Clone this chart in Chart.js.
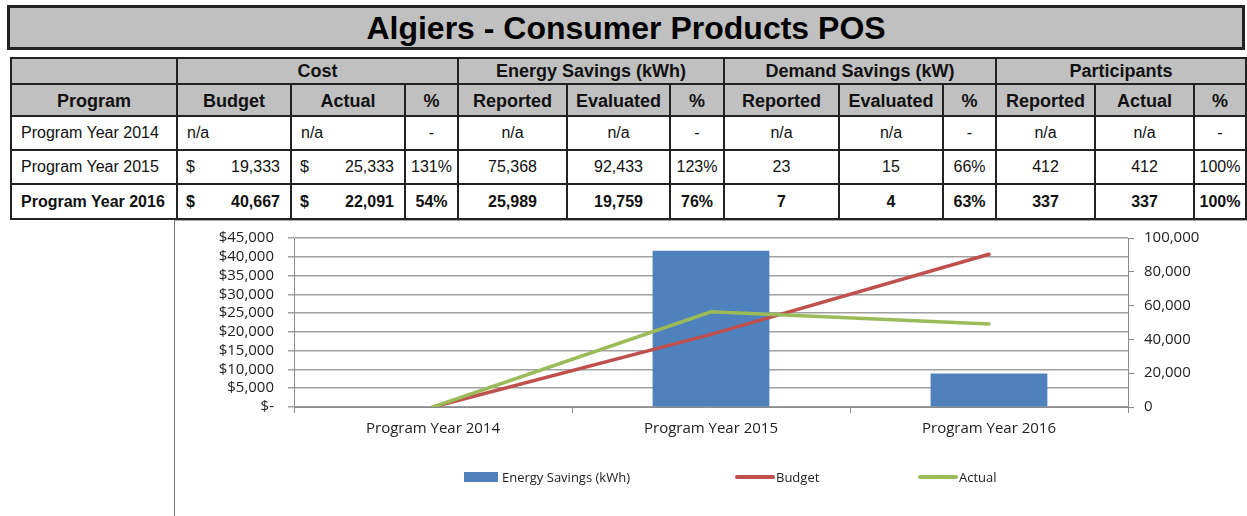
<!DOCTYPE html>
<html>
<head>
<meta charset="utf-8">
<script src="https://cdn.jsdelivr.net/npm/chart.js@4.4.0/dist/chart.umd.min.js"></script>
<style>
  body { margin:0; width:1247px; height:516px; position:relative; overflow:hidden; background:#fff;
         font-family:"Liberation Sans", Arial, sans-serif; color:#111; }
  #title { position:absolute; left:7px; top:5px; width:1232px; height:39px; border:3px solid #222;
           background:#c0c0c0; font-weight:bold; font-size:32px; line-height:40px; text-align:center; color:#000; }
  #tbl { position:absolute; left:10px; top:57px; width:1235px; border-collapse:collapse; table-layout:fixed; }
  #tbl td { border:2px solid #222; padding:0; font-size:16px; text-align:center; white-space:nowrap; overflow:hidden; }
  #tbl tr.h td { background:#c0c0c0; font-weight:bold; font-size:18px; }
  #tbl tr.h2 td { vertical-align:bottom; padding-bottom:3px; }
  #tbl tr.b td { font-weight:bold; }
  #tbl td.l { text-align:left; padding-left:9px; }
  #tbl td .m { display:flex; justify-content:space-between; padding:0 10px 0 8px; }
  #chartBox { position:absolute; left:174px; top:220px; width:1073px; height:296px;
              border-left:1px solid #777; border-top:1px solid #aaa; }
  #c { position:absolute; left:1px; top:-6px; }
  .lg { position:absolute; font-family:"Open Sans", sans-serif; font-size:13px; color:#222; line-height:14px; }
</style>
</head>
<body>
<div id="title">Algiers - Consumer Products POS</div>
<table id="tbl">
  <colgroup>
    <col style="width:166px"><col style="width:114px"><col style="width:114px"><col style="width:53px">
    <col style="width:109px"><col style="width:103px"><col style="width:54px">
    <col style="width:115px"><col style="width:104px"><col style="width:53px">
    <col style="width:99px"><col style="width:99px"><col style="width:52px">
  </colgroup>
  <tbody id="tb"></tbody>
</table>
<div id="chartBox"><canvas id="c" width="1072" height="301"></canvas></div>
<div id="legend"></div>
<script>
// categories
const years = ['Program Year 2014', 'Program Year 2015', 'Program Year 2016'];

// cost ($)
const costBudget = [null, 19333, 40667];
const costActual = [null, 25333, 22091];
const costPct = [null, 131, 54];

// energy savings (kWh)
const energyReported = [null, 75368, 25989];
const energyEvaluated = [null, 92433, 19759];
const energyPct = [null, 123, 76];

// demand savings (kW)
const demandReported = [null, 23, 7];
const demandEvaluated = [null, 15, 4];
const demandPct = [null, 66, 63];

// participants
const partReported = [null, 412, 337];
const partActual = [null, 412, 337];
const partPct = [null, 100, 100];

// chart series
const budgetLine = [0, 19333, 40667];
const actualLine = [0, 25333, 22091];
const energyBars = energyEvaluated;

// tick settings
const costTicks = { min: 0, max: 45000, step: 5000 };
const kwhTicks = { min: 0, max: 100000, step: 20000 };

// ---- table ----
const fmt = v => v.toLocaleString('en-US');
const tb = document.getElementById('tb');

tb.innerHTML =
  '<tr class="h" style="height:26px"><td></td><td colspan="3">Cost</td>' +
  '<td colspan="3">Energy Savings (kWh)</td><td colspan="3">Demand Savings (kW)</td>' +
  '<td colspan="3">Participants</td></tr>' +
  '<tr class="h h2" style="height:32px"><td>Program</td><td>Budget</td><td>Actual</td><td>%</td>' +
  '<td>Reported</td><td>Evaluated</td><td>%</td><td>Reported</td><td>Evaluated</td><td>%</td>' +
  '<td>Reported</td><td>Actual</td><td>%</td></tr>';

function moneyCell(v) {
  if (v == null) return '<td class="l">n/a</td>';
  return '<td><div class="m"><span>$</span><span>' + fmt(v) + '</span></div></td>';
}
function numCell(v) { return '<td>' + (v == null ? 'n/a' : fmt(v)) + '</td>'; }
function pctCell(v) { return '<td>' + (v == null ? '-' : v + '%') + '</td>'; }

years.forEach((yr, i) => {
  const tr = document.createElement('tr');
  tr.style.height = (i === 2 ? 35 : 34) + 'px';
  if (i === 2) tr.className = 'b';
  tr.innerHTML = '<td class="l">' + yr + '</td>' +
    moneyCell(costBudget[i]) + moneyCell(costActual[i]) + pctCell(costPct[i]) +
    numCell(energyReported[i]) + numCell(energyEvaluated[i]) + pctCell(energyPct[i]) +
    numCell(demandReported[i]) + numCell(demandEvaluated[i]) + pctCell(demandPct[i]) +
    numCell(partReported[i]) + numCell(partActual[i]) + pctCell(partPct[i]);
  tb.appendChild(tr);
});

// ---- chart ----
const font = { family: '"Open Sans", sans-serif', size: 15 };
const axisGray = '#8a8a8a';

const chart = new Chart(document.getElementById('c'), {
  type: 'bar',
  data: {
    labels: years,
    datasets: [
      {
        type: 'bar', label: 'Energy Savings (kWh)', data: energyBars,
        backgroundColor: '#4F81BD', yAxisID: 'y2', order: 3,
        barPercentage: 0.42, categoryPercentage: 1
      },
      {
        type: 'line', label: 'Budget', data: budgetLine, borderColor: '#C0504D',
        borderWidth: 3.5, pointRadius: 0, tension: 0, yAxisID: 'y', order: 2, borderCapStyle: 'round'
      },
      {
        type: 'line', label: 'Actual', data: actualLine, borderColor: '#9BBB59',
        borderWidth: 3.5, pointRadius: 0, tension: 0, yAxisID: 'y', order: 1, borderCapStyle: 'round'
      }
    ]
  },
  options: {
    responsive: false,
    animation: false,
    layout: { padding: { top: 11, left: 0, right: 0, bottom: 64 } },
    plugins: { legend: { display: false }, tooltip: { enabled: false } },
    scales: {
      x: {
        grid: { offset: true, drawOnChartArea: false, tickLength: 6, color: axisGray },
        border: { color: axisGray },
        ticks: { font: font, color: '#222', padding: 7 },
        afterFit: s => { s.height = 45; }
      },
      y: {
        position: 'left', min: costTicks.min, max: costTicks.max,
        grid: { color: '#a0a0a0', lineWidth: 1.5, tickLength: 6 },
        border: { color: axisGray },
        ticks: {
          stepSize: costTicks.step, autoSkip: false, font: font, color: '#222', padding: 14,
          callback: v => v === 0 ? '$-' : '$' + fmt(v)
        },
        afterFit: s => { s.width = 118; }
      },
      y2: {
        position: 'right', min: kwhTicks.min, max: kwhTicks.max,
        grid: { drawOnChartArea: false, tickLength: 6, color: axisGray },
        border: { color: axisGray },
        ticks: { stepSize: kwhTicks.step, autoSkip: false, font: font, color: '#222', padding: 10, callback: v => fmt(v) },
        afterFit: s => { s.width = 120; }
      }
    }
  }
});

// ---- legend (spaced like the original) ----
const legendX = [464, 735, 918];
const legend = document.getElementById('legend');
chart.data.datasets.forEach((ds, i) => {
  const isBar = ds.type === 'bar';
  const sw = document.createElement('div');
  sw.style.cssText = 'position:absolute;left:' + legendX[i] + 'px;' +
    (isBar ? 'top:472px;width:34px;height:10px;background:' + ds.backgroundColor
           : 'top:475px;width:40px;height:4px;border-radius:2px;background:' + ds.borderColor);
  legend.appendChild(sw);
  const tx = document.createElement('div');
  tx.className = 'lg';
  tx.style.left = (legendX[i] + (isBar ? 38 : 41)) + 'px';
  tx.style.top = '470px';
  tx.textContent = ds.label;
  legend.appendChild(tx);
});
</script>
</body>
</html>
